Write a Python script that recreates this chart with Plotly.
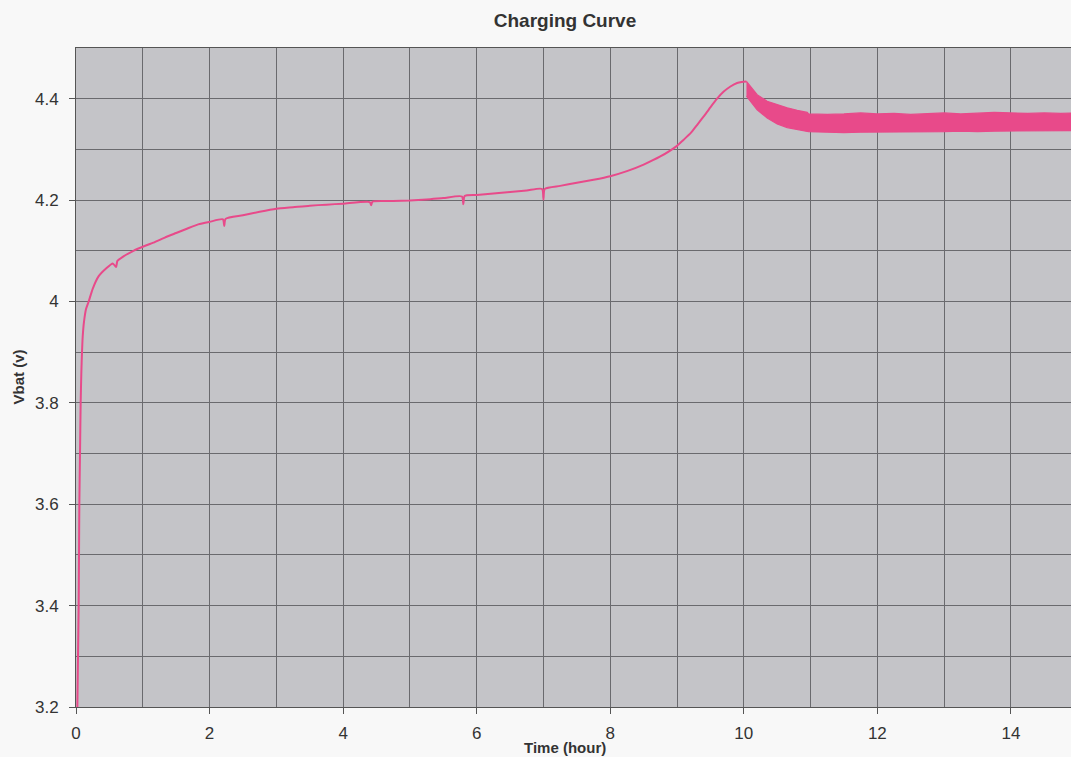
import plotly.graph_objects as go

# Charge phase: battery voltage vs. time
charge_t = [0.02, 0.025, 0.03, 0.04, 0.045, 0.05, 0.06, 0.07, 0.08, 0.09, 0.10, 0.12,
            0.15, 0.19, 0.25, 0.34, 0.45, 0.55, 0.60, 0.62, 0.70, 0.86, 1.0, 1.16,
            1.33, 1.5, 1.67, 1.83, 2.0, 2.2, 2.22, 2.24, 2.5, 2.75, 3.0, 3.25, 3.5,
            3.75, 4.0, 4.4, 4.42, 4.44, 4.75, 5.0, 5.25, 5.5, 5.78, 5.8, 5.82, 6.0,
            6.25, 6.5, 6.75, 6.98, 7.0, 7.02, 7.25, 7.5, 7.75, 8.0, 8.25, 8.5, 8.75,
            9.0, 9.1, 9.21, 9.3, 9.4, 9.5, 9.6, 9.7, 9.8, 9.9, 9.97, 10.04]
charge_v = [3.20, 3.25, 3.30, 3.40, 3.50, 3.60, 3.70, 3.80, 3.86, 3.90, 3.93, 3.96,
            3.985, 4.000, 4.025, 4.050, 4.065, 4.075, 4.068, 4.080, 4.088, 4.100, 4.108, 4.116,
            4.126, 4.135, 4.144, 4.152, 4.157, 4.162, 4.149, 4.163, 4.170, 4.177, 4.183, 4.186, 4.189,
            4.191, 4.193, 4.196, 4.190, 4.197, 4.198, 4.199, 4.201, 4.204, 4.207, 4.192, 4.208, 4.210,
            4.213, 4.216, 4.219, 4.222, 4.201, 4.222, 4.228, 4.234, 4.240, 4.247, 4.257, 4.270, 4.286,
            4.307, 4.319, 4.333, 4.348, 4.365, 4.383, 4.400, 4.414, 4.424, 4.431, 4.433, 4.434]

# Float phase: envelope of the oscillating voltage band
band_t = [10.04, 10.1, 10.2, 10.35, 10.5, 10.65, 10.8, 10.95, 10.97, 11.25, 11.5, 11.75,
          12.0, 12.25, 12.5, 12.75, 13.0, 13.25, 13.5, 13.75, 14.0, 14.25, 14.5, 14.75, 14.95]
band_hi = [4.434, 4.425, 4.408, 4.395, 4.388, 4.382, 4.377, 4.373, 4.370, 4.369, 4.370, 4.372,
           4.370, 4.371, 4.369, 4.371, 4.372, 4.370, 4.371, 4.373, 4.372, 4.371, 4.372, 4.371, 4.372]
band_lo = [4.405, 4.395, 4.378, 4.362, 4.350, 4.343, 4.339, 4.336, 4.335, 4.334, 4.333, 4.334,
           4.334, 4.335, 4.334, 4.335, 4.335, 4.336, 4.335, 4.336, 4.336, 4.337, 4.336, 4.337, 4.337]

x_ticks = [0, 2, 4, 6, 8, 10, 12, 14]
y_ticks = [3.2, 3.4, 3.6, 3.8, 4.0, 4.2, 4.4]
y_tick_text = ["3.2", "3.4", "3.6", "3.8", "4", "4.2", "4.4"]

PINK = "#e84a8a"
GRID = "#6a6a6e"
TEXT = "#333333"

fig = go.Figure()
fig.add_trace(go.Scatter(x=charge_t, y=charge_v, mode="lines",
                         line=dict(color=PINK, width=2, shape="spline", smoothing=0.6),
                         showlegend=False, hoverinfo="skip"))
fig.add_trace(go.Scatter(x=band_t, y=band_lo, mode="lines",
                         line=dict(color=PINK, width=1.2), showlegend=False,
                         hoverinfo="skip"))
fig.add_trace(go.Scatter(x=band_t, y=band_hi, mode="lines", fill="tonexty",
                         fillcolor=PINK, line=dict(color=PINK, width=1.2),
                         showlegend=False, hoverinfo="skip"))

fig.update_layout(
    width=1071, height=757,
    margin=dict(l=76, r=0, t=48, b=50),
    paper_bgcolor="#f8f8f8",
    plot_bgcolor="#c4c4c8",
    font=dict(family="Liberation Sans, Arial, sans-serif", color=TEXT),
    title=dict(text="<b>Charging Curve</b>", x=565 / 1071, xanchor="center",
               y=1 - 20 / 757, yanchor="middle",
               font=dict(size=19, color=TEXT)),
)

fig.update_xaxes(
    range=[0, 14.9], tickvals=x_ticks, ticks="outside", ticklen=6, tickcolor="#555",
    ticklabelstandoff=5, tickfont=dict(size=17, color=TEXT),
    showgrid=True, gridcolor=GRID, gridwidth=1,
    minor=dict(dtick=1, tick0=0, showgrid=True, gridcolor=GRID, gridwidth=1),
    showline=True, linecolor="#555", linewidth=1, mirror=True, zeroline=False,
)
fig.update_yaxes(
    range=[3.2, 4.5], tickvals=y_ticks, ticktext=y_tick_text,
    ticks="outside", ticklen=6, tickcolor="#555",
    ticklabelstandoff=7, tickfont=dict(size=17, color=TEXT),
    showgrid=True, gridcolor=GRID, gridwidth=1,
    minor=dict(dtick=0.1, tick0=3.2, showgrid=True, gridcolor=GRID, gridwidth=1),
    showline=True, linecolor="#555", linewidth=1, mirror=False, zeroline=False,
)

# Axis titles
fig.add_annotation(text="<b>Time (hour)</b>", xref="paper", yref="paper",
                   x=(565 - 76) / 995, y=-40 / 659, xanchor="center", yanchor="middle",
                   showarrow=False, font=dict(size=15, color=TEXT))
fig.add_annotation(text="<b>Vbat (v)</b>", xref="paper", yref="paper",
                   x=(18 - 76) / 995, y=0.5, xanchor="center", yanchor="middle",
                   textangle=-90, showarrow=False, font=dict(size=15, color=TEXT))

fig.write_html("out.html")
